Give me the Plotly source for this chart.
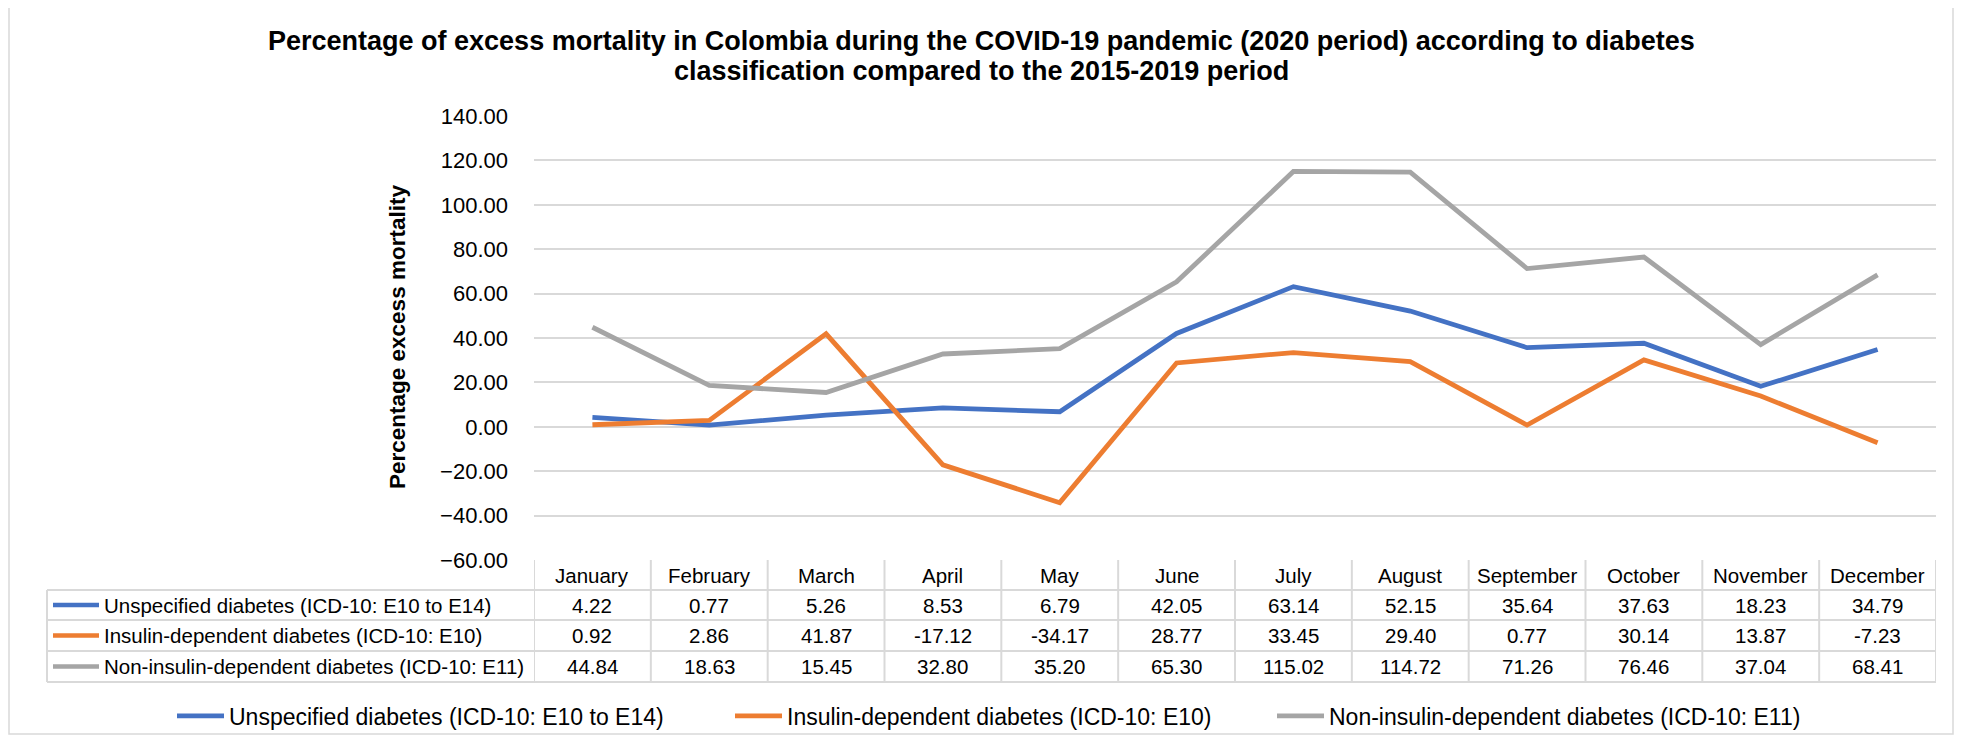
import plotly.graph_objects as go

# ---------------- data ----------------
months = ["January", "February", "March", "April", "May", "June", "July",
          "August", "September", "October", "November", "December"]
series_names = ["Unspecified diabetes (ICD-10: E10 to E14)",
                "Insulin-dependent diabetes (ICD-10: E10)",
                "Non-insulin-dependent diabetes (ICD-10: E11)"]
unspecified = [4.22, 0.77, 5.26, 8.53, 6.79, 42.05, 63.14, 52.15, 35.64, 37.63, 18.23, 34.79]
insulin_dep = [0.92, 2.86, 41.87, -17.12, -34.17, 28.77, 33.45, 29.40, 0.77, 30.14, 13.87, -7.23]
non_insulin = [44.84, 18.63, 15.45, 32.80, 35.20, 65.30, 115.02, 114.72, 71.26, 76.46, 37.04, 68.41]
y_ticks = [-60, -40, -20, 0, 20, 40, 60, 80, 100, 120, 140]
title_lines = ["Percentage of excess mortality in Colombia during the COVID-19 pandemic (2020 period) according to diabetes",
               "classification compared to the 2015-2019 period"]
y_title = "Percentage excess mortality"

# ---------------- layout helpers ----------------
colors = ["#4472C4", "#ED7D31", "#A5A5A5"]
FONT = "Liberation Sans, Arial, sans-serif"
GRID = "#D9D9D9"
OFF = 8                      # page body margin
W, H = 1963 - 2 * OFF, 743 - 2 * OFF
L, T = 534 - OFF, 116 - OFF
R = W - (1936 - OFF)
B = H - (560 - OFF)
PW, PH = W - L - R, H - T - B


def px(x):
    """window x (px) -> paper x"""
    return (x - OFF - L) / PW


def py(y):
    """window y (px) -> paper y"""
    return (H - B - (y - OFF)) / PH


all_series = [unspecified, insulin_dep, non_insulin]
legend_ids = ["legend", "legend2", "legend3"]
legend_key_x = [177, 735, 1277]

fig = go.Figure()
for name, vals, c, lid in zip(series_names, all_series, colors, legend_ids):
    fig.add_trace(go.Scatter(x=months, y=vals, name=name, mode="lines", legend=lid,
                             line=dict(color=c, width=4.8)))

shapes = []
annotations = []

# table horizontal lines
for yy in [590, 620, 651, 682]:
    shapes.append(dict(type="line", xref="paper", yref="paper", x0=px(47), x1=1,
                       y0=py(yy), y1=py(yy), line=dict(color=GRID, width=2)))
# table vertical lines at category boundaries
for k in range(len(months) + 1):
    shapes.append(dict(type="line", xref="x", yref="paper", x0=k - 0.5, x1=k - 0.5,
                       y0=py(560), y1=py(682), line=dict(color=GRID, width=2)))
shapes.append(dict(type="line", xref="paper", yref="paper", x0=px(47), x1=px(47),
                   y0=py(590), y1=py(682), line=dict(color=GRID, width=2)))
# outer chart border
shapes.append(dict(type="rect", xref="paper", yref="paper", x0=px(9), x1=px(1953),
                   y0=py(734), y1=py(6), line=dict(color=GRID, width=1.5)))

tfont = dict(family=FONT, size=20.5, color="#000")
# header row
for m in months:
    annotations.append(dict(x=m, xref="x", y=py(575), yref="paper", text=m,
                            showarrow=False, font=tfont, xanchor="center", yanchor="middle"))
row_centers = [605, 635.5, 666.5]
for name, vals, c, rc in zip(series_names, all_series, colors, row_centers):
    shapes.append(dict(type="line", xref="paper", yref="paper", x0=px(53), x1=px(99),
                       y0=py(rc), y1=py(rc), line=dict(color=c, width=4.5)))
    annotations.append(dict(x=px(102), xref="paper", y=py(rc), yref="paper", text=name,
                            showarrow=False, font=tfont, xanchor="left", yanchor="middle"))
    for m, v in zip(months, vals):
        annotations.append(dict(x=m, xref="x", y=py(rc), yref="paper", text=f"{v:.2f}",
                                showarrow=False, font=tfont, xanchor="center", yanchor="middle"))

# title (two lines, tight Excel-like spacing)
for txt, yc in zip(title_lines, [41, 71]):
    annotations.append(dict(x=px(981.5), xref="paper", y=py(yc), yref="paper", text=txt,
                            showarrow=False, xanchor="center", yanchor="middle",
                            font=dict(family=FONT, size=27, color="#000", weight="bold")))

# y-axis title
annotations.append(dict(x=px(397), xref="paper", y=py(337), yref="paper", text=y_title,
                        textangle=-90, showarrow=False,
                        font=dict(family=FONT, size=22.5, color="#000", weight="bold"),
                        xanchor="center", yanchor="middle"))

legend_common = dict(orientation="h", xref="container", yref="container", xanchor="left",
                     y=1 - (716 - OFF) / H, yanchor="middle", itemwidth=47,
                     font=dict(family=FONT, size=23, color="#000"),
                     bgcolor="rgba(0,0,0,0)", borderwidth=0)
legends = {}
for lid, kx in zip(legend_ids, legend_key_x):
    legends[lid] = dict(legend_common, x=(kx - OFF - 5) / W)

fig.update_layout(
    width=W, height=H,
    margin=dict(l=L, r=R, t=T, b=B, pad=0),
    paper_bgcolor="white", plot_bgcolor="white",
    xaxis=dict(range=[-0.5, len(months) - 0.5], showticklabels=False, showgrid=False,
               zeroline=False, showline=False, ticks=""),
    yaxis=dict(range=[-60, 140], tickvals=y_ticks, tickformat=".2f",
               showgrid=True, gridcolor=GRID, gridwidth=2, zeroline=False,
               showline=False, ticks="", ticklabelstandoff=25,
               tickfont=dict(family=FONT, size=22, color="#000")),
    shapes=shapes, annotations=annotations,
    showlegend=True,
    **legends,
)

fig.write_html("out.html")
